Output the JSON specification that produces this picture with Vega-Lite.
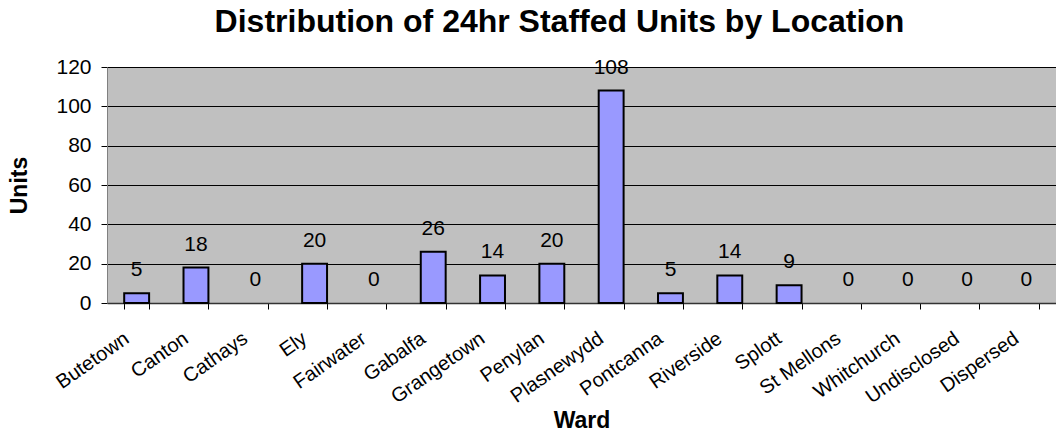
{
  "$schema": "https://vega.github.io/schema/vega-lite/v6.json",
  "width": 949,
  "height": 236,
  "autosize": "none",
  "padding": {"left": 107, "top": 67, "right": 0, "bottom": 132},
  "background": "white",
  "title": {
    "text": "Distribution of 24hr Staffed Units by Location",
    "font": "Liberation Sans",
    "fontSize": 32,
    "fontWeight": "bold",
    "color": "black",
    "anchor": "middle",
    "frame": "group",
    "dx": -22,
    "offset": 17
  },
  "data": {
    "values": [
      {"Ward": "Butetown", "Units": 5},
      {"Ward": "Canton", "Units": 18},
      {"Ward": "Cathays", "Units": 0},
      {"Ward": "Ely", "Units": 20},
      {"Ward": "Fairwater", "Units": 0},
      {"Ward": "Gabalfa", "Units": 26},
      {"Ward": "Grangetown", "Units": 14},
      {"Ward": "Penylan", "Units": 20},
      {"Ward": "Plasnewydd", "Units": 108},
      {"Ward": "Pontcanna", "Units": 5},
      {"Ward": "Riverside", "Units": 14},
      {"Ward": "Splott", "Units": 9},
      {"Ward": "St Mellons", "Units": 0},
      {"Ward": "Whitchurch", "Units": 0},
      {"Ward": "Undisclosed", "Units": 0},
      {"Ward": "Dispersed", "Units": 0}
    ]
  },
  "encoding": {
    "x": {
      "field": "Ward",
      "type": "nominal",
      "sort": null,
      "scale": {
        "domain": ["Butetown", "Canton", "Cathays", "Ely", "Fairwater", "Gabalfa", "Grangetown", "Penylan", "Plasnewydd", "Pontcanna", "Riverside", "Splott", "St Mellons", "Whitchurch", "Undisclosed", "Dispersed"],
        "paddingInner": 0.58,
        "paddingOuter": 0.29
      },
      "axis": {
        "title": "Ward",
        "titleFont": "Liberation Sans",
        "titleFontSize": 23,
        "titleFontWeight": "bold",
        "titleColor": "black",
        "titlePadding": 3,
        "labelFont": "Liberation Sans",
        "labelFontSize": 20,
        "labelColor": "black",
        "labelAngle": -35,
        "labelAlign": "right",
        "labelBaseline": "top",
        "labelPadding": 19,
        "labelOffset": -16,
        "tickBand": "extent",
        "tickColor": "black",
        "tickSize": 6,
        "domainColor": "#333333",
        "domainWidth": 1.5,
        "grid": false
      }
    },
    "y": {
      "field": "Units",
      "type": "quantitative",
      "scale": {"domain": [0, 120], "nice": false},
      "axis": {
        "title": "Units",
        "titleFont": "Liberation Sans",
        "titleFontSize": 23,
        "titleFontWeight": "bold",
        "titleColor": "black",
        "titlePadding": 24,
        "values": [0, 20, 40, 60, 80, 100, 120],
        "labelFont": "Liberation Sans",
        "labelFontSize": 21,
        "labelColor": "black",
        "labelPadding": 10,
        "tickColor": "black",
        "tickSize": 6,
        "domainColor": "#808080",
        "grid": true,
        "gridColor": "black",
        "gridWidth": 1
      }
    }
  },
  "layer": [
    {
      "transform": [{"filter": "datum.Units > 0"}],
      "mark": {"type": "bar", "fill": "#9999ff", "stroke": "black", "strokeWidth": 2}
    },
    {
      "mark": {
        "type": "text",
        "font": "Liberation Sans",
        "fontSize": 21,
        "color": "black",
        "baseline": "alphabetic",
        "dy": -17
      },
      "encoding": {"text": {"field": "Units", "type": "quantitative"}}
    }
  ],
  "config": {
    "view": {"fill": "#c0c0c0", "stroke": "#808080", "strokeWidth": 1}
  }
}
